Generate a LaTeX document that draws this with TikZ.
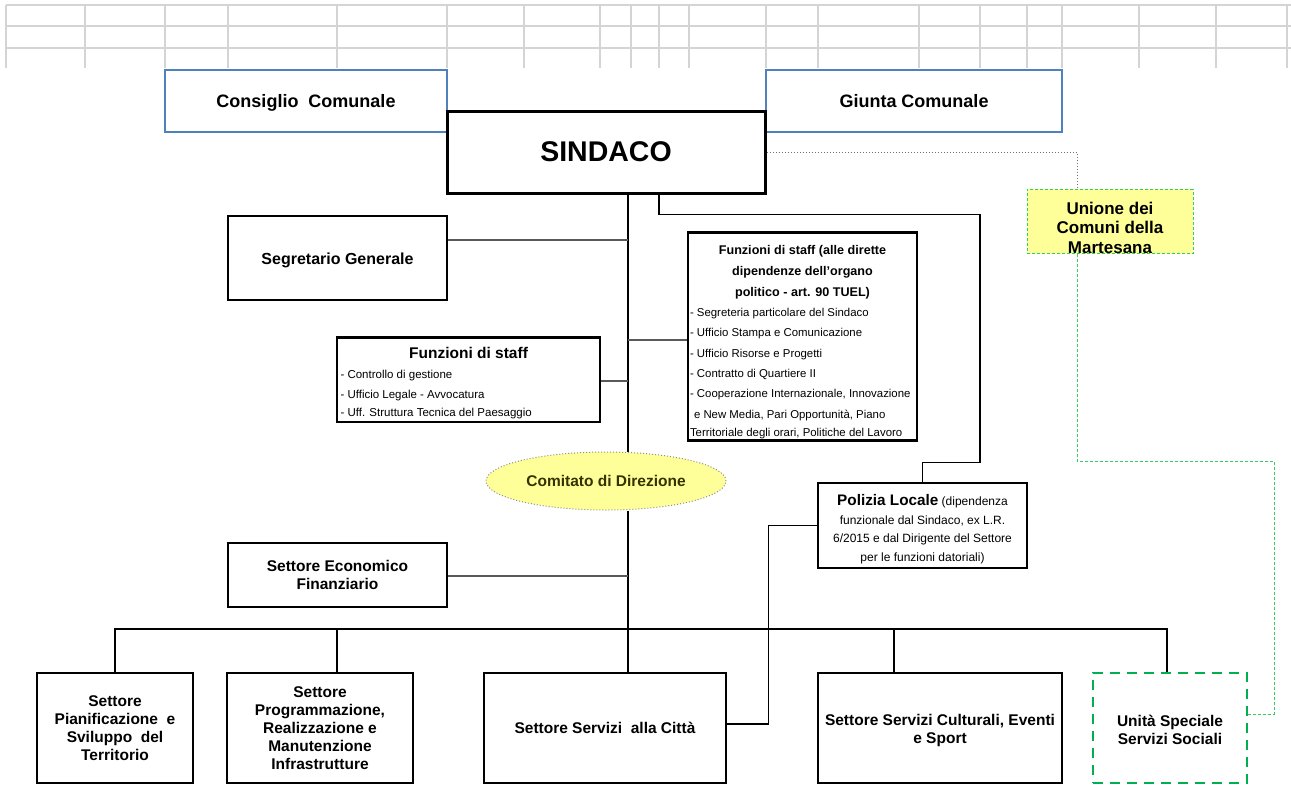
\documentclass[tikz,border=0pt]{standalone}
\usepackage{fontspec}
\setmainfont{Liberation Sans}
\usetikzlibrary{shapes.geometric}
\definecolor{bordoblu}{HTML}{4F81BD}
\definecolor{giallino}{HTML}{FFFF99}
\definecolor{verde}{HTML}{00B050}
\definecolor{verdechiaro}{HTML}{33CC66}
\definecolor{testocomitato}{HTML}{333300}
\definecolor{griglia}{HTML}{D4D4D4}

\begin{document}
\begin{tikzpicture}[x=1pt,y=-1pt]
\hyphenpenalty=10000
\tikzstyle{box}=[draw=black, fill=white, line width=2.4pt, inner sep=3pt, align=center, font=\fontsize{15.5}{18}\selectfont\bfseries]
\tikzstyle{elenco}=[box, align=left, execute at begin node={\spaceskip=0pt\xspaceskip=0pt}]
\tikzstyle{organo}=[draw=bordoblu, line width=2.2pt, font=\fontsize{18}{20}\selectfont\bfseries]
\tikzstyle{link}=[draw=black!65, line width=1.1pt]
\tikzstyle{trunk}=[draw=black, line width=1.2pt]
\tikzstyle{foglio}=[draw=griglia, line width=1.2pt]
\useasboundingbox (0,0) rectangle (1291,785);
% griglia del foglio
\foreach \y in {5,26,48}
    \draw[foglio] (6,\y) -- (1291,\y);
\foreach \x in {6,85,165,228,337,447,524,600,631,659,689,766,818,919,980,1027,1062,1139,1216,1287}
    \draw[foglio] (\x,5) -- (\x,68);
% organi politici
\node[organo, minimum width=282pt, minimum height=62pt] (cons) at (306,101) {\rule{0pt}{17pt}Consiglio\ \ Comunale};
\node[organo, minimum width=296pt, minimum height=62pt] (giunta) at (914,101) {Giunta Comunale};
\node[box, line width=3pt, minimum width=318pt, minimum height=82pt, font=\fontsize{28.5}{30}\selectfont\bfseries] (sind) at (606,152) {SINDACO};
\node[draw=verdechiaro, fill=giallino, dash pattern=on 3pt off 2pt, line width=1pt, minimum width=166pt, minimum height=62pt, inner sep=0pt, align=center, font=\fontsize{17}{19.5}\selectfont\bfseries] (unione) at (1110,221.5) {\rule{0pt}{25pt}Unione dei\\Comuni della\\Martesana};
% staff
\node[box, minimum width=219pt, minimum height=84pt, font=\fontsize{16}{18}\selectfont\bfseries] (segr) at (337.5,258) {\rule{0pt}{17pt}Segretario Generale};
\node[elenco, minimum width=229pt, minimum height=207pt, text width=225pt, inner sep=2pt] (fsind) at (802.5,336.5)
    {{\centering\fontsize{12.6}{20.8}\selectfont\rule{0pt}{20pt}Funzioni di staff (alle dirette\\ dipendenze dell'organo\\ politico - art. 90 TUEL)\par}
     \fontsize{11.4}{20.3}\selectfont\mdseries - Segreteria particolare del Sindaco\\ - Ufficio Stampa e Comunicazione\\ - Ufficio Risorse e Progetti\\ - Contratto di Quartiere II\\ - Cooperazione Internazionale, Innovazione\\ \hspace*{4pt}e New Media, Pari Opportunità, Piano\\ Territoriale degli orari, Politiche del Lavoro};
\node[elenco, minimum width=263pt, minimum height=81pt, text width=256pt] (fstaff) at (468.5,379.5)
    {{\centering\rule{0pt}{18pt}Funzioni di staff\par}
     \fontsize{11.5}{20}\selectfont\mdseries - Controllo di gestione\\ - Ufficio Legale - Avvocatura\\ - Uff. Struttura Tecnica del Paesaggio};
\node[ellipse, draw=black!45, dotted, fill=giallino, line width=1pt, minimum width=240pt, minimum height=58pt, inner sep=0pt, text=testocomitato, font=\fontsize{15.5}{18}\selectfont\bfseries] (comit) at (606,481) {Comitato di Direzione};
\node[box, minimum width=209pt, minimum height=85pt, font=\fontsize{12}{18.5}\selectfont] (pol) at (922.5,525.5)
    {{\fontsize{15.3}{18.5}\selectfont\bfseries\rule{0pt}{18pt}Polizia Locale} (dipendenza\\ funzionale dal Sindaco, ex L.R.\\ 6/2015 e dal Dirigente del Settore\\ per le funzioni datoriali)};
\node[box, minimum width=219pt, minimum height=64pt] (econ) at (337.5,575) {Settore Economico\\Finanziario};
% settori
\foreach \n/\x/\w/\txt in {s1/115/156/{Settore\\Pianificazione\ \ e\\Sviluppo\ \ del\\Territorio},
    s2/320/186/{Settore\\Programmazione,\\Realizzazione e\\Manutenzione\\Infrastrutture},
    s3/605/242/{Settore Servizi\ \ alla Città},
    s4/940/244/{\rule{0pt}{17pt}Settore Servizi Culturali, Eventi\\e Sport}}
    \node[box, minimum width=\w pt, minimum height=110pt] (\n) at (\x,728) {\txt};
\node[box, draw=verde, line width=2.8pt, dash pattern=on 10pt off 7pt, minimum width=154pt, minimum height=110pt] (unita) at (1170,728) {\rule{0pt}{16pt}Unità Speciale\\Servizi Sociali};
% collegamenti
\coordinate (bus) at (628,629);
\draw[trunk] (sind.south -| bus) -- (comit.north -| bus);
\draw[trunk] (comit.south -| bus) -- (s3.north -| bus);
\foreach \n/\dx in {s1/0, s2/17, s4/-46, unita/-3}
    \draw[trunk] ([xshift=\dx pt]\n.north) |- (bus);
\foreach \n/\y in {segr/240, fstaff/381, econ/576}
   {
    \coordinate (j) at (628,\y);
    \draw[link] (\n.east |- j) -- (j);
   }
\coordinate (j) at (628,340);
\draw[link] (j) -- (fsind.west |- j);
\draw[trunk] ([xshift=53pt]sind.south) -- ++(0,20) -| ++(321,248) -| (pol.north);
\draw[trunk] (pol.west) -| ([xshift=41pt,yshift=4pt]s3.east) -- ([yshift=4pt]s3.east);
\draw[draw=black!55, line width=1pt, dotted] (sind.east) -| ([xshift=-33pt]unione.north);
\coordinate (g1) at (1274,461);
\draw[draw=verdechiaro, line width=1pt, dash pattern=on 3pt off 2pt] ([xshift=-33pt]unione.south) |- (g1) |- ([yshift=14pt]unita.east);
\end{tikzpicture}
\end{document}
